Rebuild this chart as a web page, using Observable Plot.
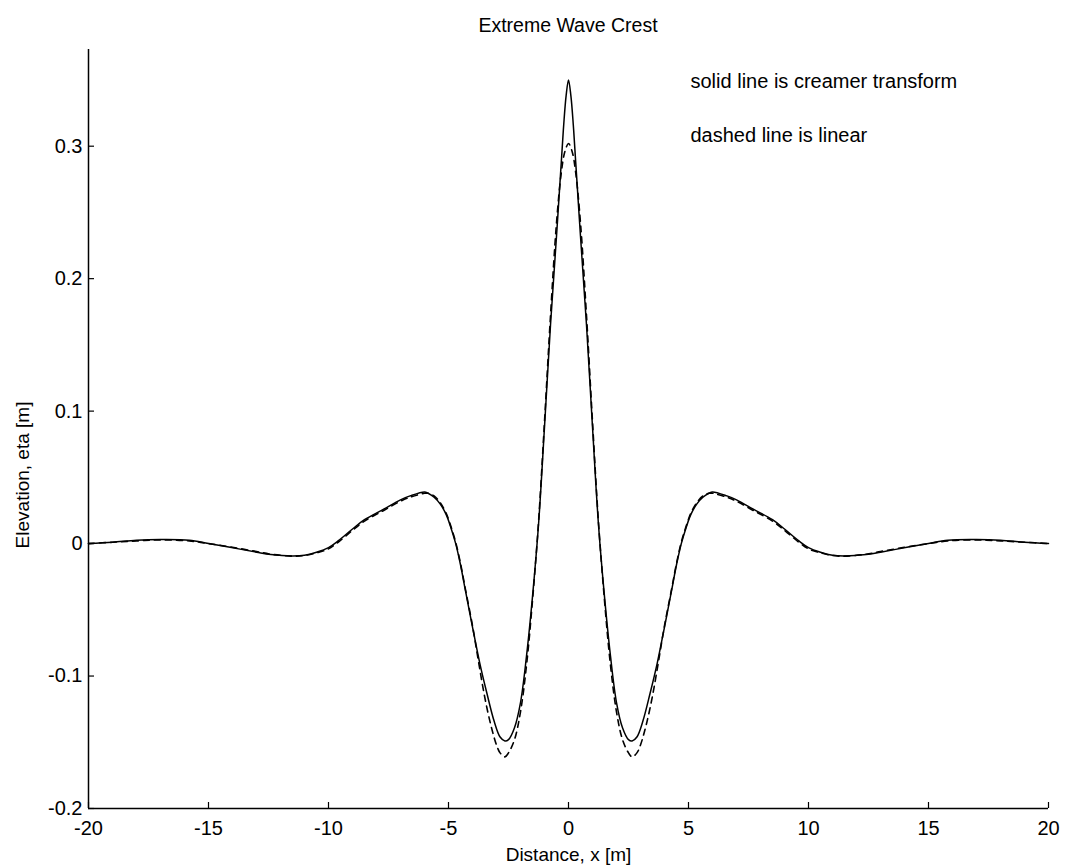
<!DOCTYPE html>
<html><head><meta charset="utf-8">
<script src="https://cdn.jsdelivr.net/npm/d3@7"></script>
<script src="https://cdn.jsdelivr.net/npm/@observablehq/plot@0.6"></script>
<style>
body{margin:0;background:#fff;font-family:"Liberation Sans",Arial,sans-serif;}
#title{position:absolute;left:88px;width:960px;top:16px;height:20px;text-align:center;font-size:19.5px;line-height:19px;color:#000;}
#chart{position:absolute;left:0;top:36px;}
</style></head><body>
<div id="title"></div>
<div id="chart"></div>
<script>
const titleText = "Extreme Wave Crest";
const xLabel = "Distance, x [m]";
const yLabel = "Elevation, eta [m]";
const notes = ["solid line is creamer transform", "dashed line is linear"];

const xTicks = [-20, -15, -10, -5, 0, 5, 10, 15, 20];
const xTickLabels = ["-20", "-15", "-10", "-5", "0", "5", "10", "15", "20"];
const yTicks = [-0.2, -0.1, 0, 0.1, 0.2, 0.3];
const yTickLabels = ["-0.2", "-0.1", "0", "0.1", "0.2", "0.3"];

// Creamer transform (solid)
const xSolid = [-20, -19, -18, -17, -15.8, -15, -14.1, -13, -12.4, -11.5, -11, -10.5, -10, -9.6, -9, -8.5, -7.7, -7, -6.6, -6, -5.85, -5.6, -5.35, -5.1, -4.9, -4.7, -4.5, -4.3, -4, -3.7, -3.4, -3.1, -2.85, -2.65, -2.5, -2.25, -2, -1.75, -1.5, -1.25, -1, -0.75, -0.5, -0.3, -0.2, -0.1,
  0,
  0.1, 0.2, 0.3, 0.5, 0.75, 1, 1.25, 1.5, 1.75, 2, 2.25, 2.5, 2.65, 2.85, 3.1, 3.4, 3.7, 4, 4.3, 4.5, 4.7, 4.9, 5.1, 5.35, 5.6, 5.85, 6, 6.6, 7, 7.7, 8.5, 9, 9.6, 10, 10.5, 11, 11.5, 12.4, 13, 14.1, 15, 15.8, 17, 18, 19, 20];
const ySolid = [0, 0.001, 0.0025, 0.003, 0.0025, 0, -0.0028, -0.0065, -0.0083, -0.0093, -0.0088, -0.0065, -0.003, 0.002, 0.011, 0.018, 0.026, 0.033, 0.036, 0.039, 0.038, 0.035, 0.030, 0.022, 0.012, 0.000, -0.016, -0.035, -0.063, -0.090, -0.113, -0.134, -0.146, -0.149, -0.148, -0.139, -0.120, -0.085, -0.040, 0.014, 0.088, 0.165, 0.232, 0.288, 0.316, 0.338,
  0.350,
  0.338, 0.316, 0.288, 0.232, 0.165, 0.088, 0.014, -0.040, -0.085, -0.120, -0.139, -0.148, -0.149, -0.146, -0.134, -0.113, -0.090, -0.063, -0.035, -0.016, 0.000, 0.012, 0.022, 0.030, 0.035, 0.038, 0.039, 0.036, 0.033, 0.026, 0.018, 0.011, 0.002, -0.003, -0.0065, -0.0088, -0.0093, -0.0083, -0.0065, -0.0028, 0, 0.0025, 0.003, 0.0025, 0.001, 0];

// Linear (dashed)
const xLinear = [-20, -19, -18, -17, -15.8, -15, -14.1, -13, -12.4, -11.5, -11, -10.5, -10, -9.6, -9, -8.5, -7.7, -7, -6.6, -6, -5.85, -5.6, -5.35, -5.1, -4.9, -4.7, -4.5, -4.3, -4, -3.75, -3.5, -3.25, -3, -2.85, -2.65, -2.5, -2.25, -2, -1.75, -1.5, -1.25, -1, -0.75, -0.5, -0.3, -0.15,
  0,
  0.15, 0.3, 0.5, 0.75, 1, 1.25, 1.5, 1.75, 2, 2.25, 2.5, 2.65, 2.85, 3, 3.25, 3.5, 3.75, 4, 4.3, 4.5, 4.7, 4.9, 5.1, 5.35, 5.6, 5.85, 6, 6.6, 7, 7.7, 8.5, 9, 9.6, 10, 10.5, 11, 11.5, 12.4, 13, 14.1, 15, 15.8, 17, 18, 19, 20];
const yLinear = [0, 0.001, 0.002, 0.0028, 0.002, 0, -0.0025, -0.006, -0.008, -0.0095, -0.009, -0.007, -0.004, 0.001, 0.010, 0.017, 0.025, 0.032, 0.035, 0.038, 0.038, 0.036, 0.031, 0.023, 0.013, 0.001, -0.015, -0.034, -0.062, -0.089, -0.115, -0.136, -0.152, -0.158, -0.161, -0.158, -0.148, -0.127, -0.092, -0.043, 0.016, 0.092, 0.172, 0.242, 0.280, 0.296,
  0.302,
  0.296, 0.280, 0.242, 0.172, 0.092, 0.016, -0.043, -0.092, -0.127, -0.148, -0.158, -0.161, -0.158, -0.152, -0.136, -0.115, -0.089, -0.062, -0.034, -0.015, 0.001, 0.013, 0.023, 0.031, 0.036, 0.038, 0.038, 0.035, 0.032, 0.025, 0.017, 0.010, 0.001, -0.004, -0.007, -0.009, -0.0095, -0.008, -0.006, -0.0025, 0, 0.002, 0.0028, 0.002, 0.001, 0];

const solid = xSolid.map((x, i) => ({x, y: ySolid[i]}));
const linear = xLinear.map((x, i) => ({x, y: yLinear[i]}));

document.getElementById("title").textContent = titleText;

const W = 1066, H = 832;
const mL = 88, mR = 18, mT = 13, mB = 60;
const fw = W - mL - mR, fh = H - mT - mB;
const font = "'Liberation Sans', Arial, sans-serif";

const chart = Plot.plot({
  width: W, height: H,
  marginLeft: mL, marginRight: mR, marginTop: mT, marginBottom: mB,
  x: {domain: [-20, 20]},
  y: {domain: [-0.2, 0.373]},
  style: {fontFamily: font, fontSize: "20px", color: "black", background: "white"},
  marks: [
    Plot.axisX(xTicks, {tickSize: 0, tickPadding: 12, fontSize: 20, label: null,
      tickFormat: d => xTickLabels[xTicks.indexOf(d)]}),
    Plot.axisY(yTicks, {tickSize: 0, tickPadding: 6, fontSize: 20, label: null,
      tickFormat: d => yTickLabels[yTicks.findIndex(t => Math.abs(t - d) < 1e-9)]}),
    Plot.tickY(yTicks, {y: d => d, insetRight: fw - 6, stroke: "black", strokeWidth: 1.2}),
    Plot.tickX(xTicks, {x: d => d, insetTop: fh - 6, stroke: "black", strokeWidth: 1.2}),
    Plot.ruleX([-20], {stroke: "black", strokeWidth: 1.5}),
    Plot.ruleY([-0.2], {stroke: "black", strokeWidth: 1.5}),
    Plot.line(linear, {x: "x", y: "y", curve: "catmull-rom", stroke: "black", strokeWidth: 1.6, strokeDasharray: "6,5"}),
    Plot.line(solid, {x: "x", y: "y", curve: "catmull-rom", stroke: "black", strokeWidth: 1.5}),
    Plot.text([notes[0]], {text: d => d, frameAnchor: "top-left", textAnchor: "start", lineAnchor: "bottom", dx: 602, dy: 38, fontSize: 20, fill: "black"}),
    Plot.text([notes[1]], {text: d => d, frameAnchor: "top-left", textAnchor: "start", lineAnchor: "bottom", dx: 602, dy: 92, fontSize: 20, fill: "black"}),
    Plot.text([xLabel], {text: d => d, frameAnchor: "bottom", textAnchor: "middle", lineAnchor: "bottom", dy: 52, fontSize: 19, fill: "black"}),
    Plot.text([yLabel], {text: d => d, frameAnchor: "left", textAnchor: "middle", rotate: -90, dx: -66, dy: 46, fontSize: 19, fill: "black"})
  ]
});
document.getElementById("chart").appendChild(chart);
</script>
</body></html>
